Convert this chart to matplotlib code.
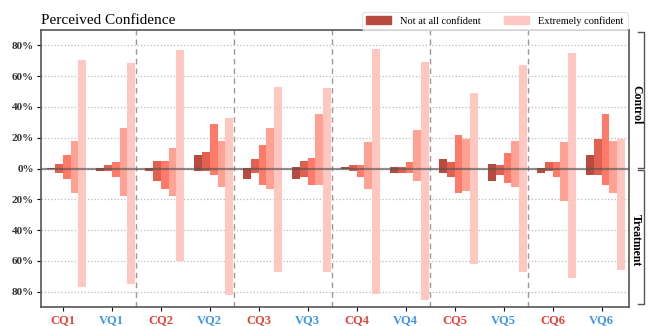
import matplotlib.pyplot as plt
import numpy as np
from matplotlib.lines import Line2D
from matplotlib.patches import Patch

plt.rcParams['font.family'] = ['Liberation Serif', 'DejaVu Serif']

questions = ['CQ1', 'VQ1', 'CQ2', 'VQ2', 'CQ3', 'VQ3', 'CQ4', 'VQ4', 'CQ5', 'VQ5', 'CQ6', 'VQ6']
levels = ['Not at all confident', 'Slightly confident', 'Somewhat confident',
          'Very confident', 'Extremely confident']

# percentage of answers per confidence level (rows = questions, cols = levels)
control = [
    [0.5, 3.0, 8.9, 17.9, 70.4],
    [0.4, 2.2, 4.3, 26.3, 68.5],
    [0.5, 5.0, 5.0, 13.6, 76.9],
    [8.9, 10.8, 28.9, 17.9, 32.8],
    [0.4, 6.3, 15.3, 26.3, 52.9],
    [1.1, 5.0, 6.9, 35.4, 52.3],
    [1.0, 2.4, 2.4, 17.3, 77.9],
    [1.1, 1.1, 4.3, 25.0, 69.1],
    [6.3, 4.3, 21.8, 19.2, 49.0],
    [3.0, 2.4, 10.2, 17.9, 67.2],
    [0.4, 4.3, 4.3, 17.3, 75.0],
    [8.9, 19.2, 35.4, 17.9, 19.2],
]
treatment = [
    [0.2, 2.8, 6.5, 15.8, 77.3],
    [1.3, 1.5, 5.2, 18.1, 75.2],
    [1.3, 8.4, 13.0, 18.1, 60.0],
    [1.3, 1.3, 4.5, 12.3, 82.5],
    [6.5, 3.2, 11.0, 13.0, 67.4],
    [7.1, 5.2, 11.0, 10.4, 67.4],
    [0.2, 1.3, 5.2, 13.0, 81.6],
    [3.2, 2.6, 2.6, 8.4, 85.5],
    [3.2, 5.2, 16.2, 14.3, 62.2],
    [8.4, 4.5, 9.1, 12.3, 67.4],
    [2.6, 1.3, 5.2, 21.4, 71.3],
    [4.5, 4.5, 10.4, 16.2, 66.1],
]

colors = ['#b94a3f', '#e2604f', '#ff7a68', '#ffa294', '#ffc7c0']

control = np.array(control)
treatment = np.array(treatment)
x = np.arange(len(questions))
w = 0.16

fig = plt.figure(figsize=(6.5, 3.26), dpi=100)
ax = fig.add_axes([41/650, 1-307/326, (629-41)/650, (307-30)/326])

for k in range(len(levels)):
    ax.bar(x + (k-2)*w, control[:, k] + treatment[:, k], bottom=-treatment[:, k],
           width=w, align='edge', color=colors[k], zorder=2, linewidth=0)

ax.axhline(0, color='#555555', lw=1.6, alpha=0.65, zorder=3)
for xv in [1.5, 3.5, 5.5, 7.5, 9.5]:
    ax.axvline(xv, color='#999999', lw=1.0, ls=(0, (4, 3)), zorder=1)

ax.yaxis.grid(True, color='#bbbbbb', ls=':', lw=0.9, zorder=0)
ax.set_axisbelow(True)
ax.set_ylim(-90, 90)
ax.set_xlim(-0.443, 11.56)
yt = [-80, -60, -40, -20, 0, 20, 40, 60, 80]
ax.set_yticks(yt)
ax.set_yticklabels(['%d%%' % abs(v) for v in yt], fontsize=8, fontweight='bold', color='#333333')
ax.set_xticks(x)
ax.set_xticklabels(questions, fontsize=9, fontweight='bold')
for lab, q in zip(ax.get_xticklabels(), questions):
    lab.set_color('#e0453a' if q.startswith('C') else '#3d95e8')
ax.tick_params(length=3, width=0.8, pad=2)
for s in ax.spines.values():
    s.set_color('#555555')
    s.set_linewidth(1.2)

fig.text(41/650, 1-20/326, 'Perceived Confidence', fontsize=11, va='center', ha='left')

handles = [Patch(color=colors[0]), Patch(color=colors[4])]
leg = fig.legend(handles, [levels[0], levels[4]], ncol=2, fontsize=7.5,
                 loc='upper right', bbox_to_anchor=(633/650, 1-7/326),
                 frameon=True, handlelength=2.4, handleheight=0.8, columnspacing=2.2,
                 borderpad=0.4, handletextpad=0.9)
leg.get_frame().set_edgecolor('#dddddd')
leg.get_frame().set_linewidth(0.8)

# brackets for Control / Treatment
def bracket(y0, y1):
    xs = [638/650, 644/650, 644/650, 638/650]
    ys = [1-y0/326, 1-y0/326, 1-y1/326, 1-y1/326]
    fig.add_artist(Line2D(xs, ys, color='#555555', lw=1.0))

bracket(32, 168)
bracket(170, 304)
fig.text(636/650, 1-105/326, 'Control', rotation=-90, fontsize=8.5, fontweight='bold',
         ha='center', va='center')
fig.text(636/650, 1-240/326, 'Treatment', rotation=-90, fontsize=8.5, fontweight='bold',
         ha='center', va='center')

fig.savefig('out.png', dpi=100)
